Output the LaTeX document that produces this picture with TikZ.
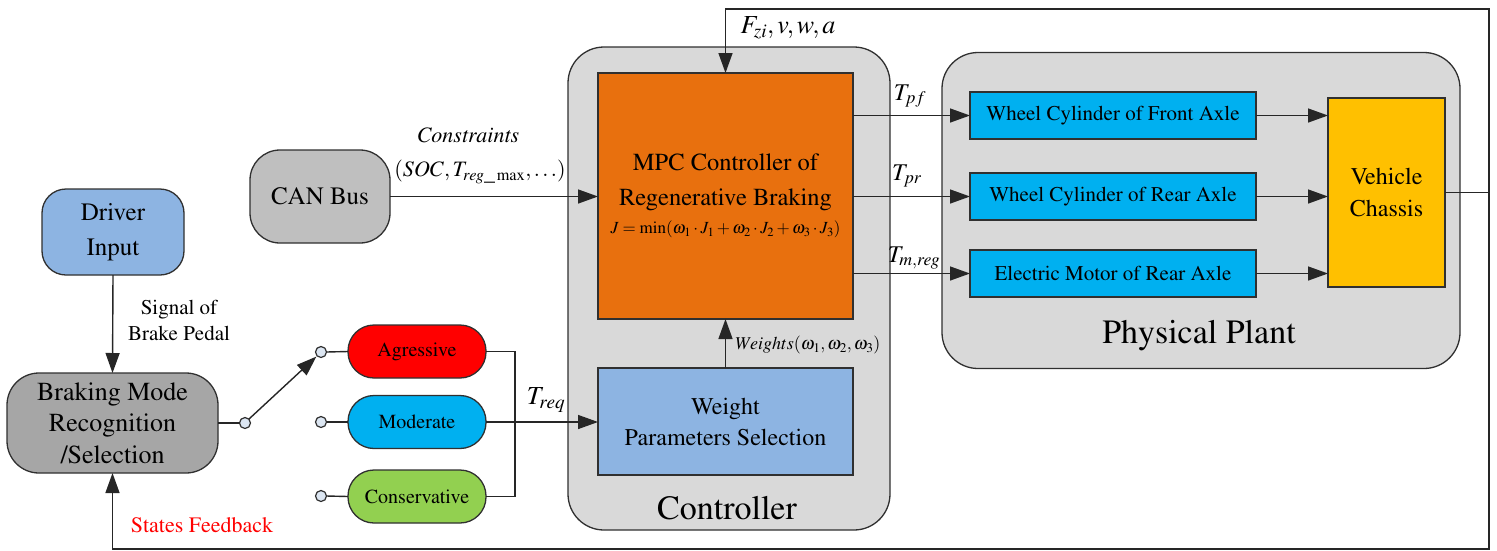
\documentclass[tikz,border=0pt]{standalone}
\usepackage[T1]{fontenc}
\usepackage{mathptmx}
\usetikzlibrary{arrows.meta}
\definecolor{drvblue}{HTML}{8DB4E2}
\definecolor{brkgray}{HTML}{A6A6A6}
\definecolor{cangray}{HTML}{BFBFBF}
\definecolor{contgray}{HTML}{D9D9D9}
\definecolor{mpcorange}{HTML}{E8700E}
\definecolor{cyanbox}{HTML}{00B0F0}
\definecolor{greenbox}{HTML}{92D050}
\definecolor{yellowbox}{HTML}{FFC000}
\definecolor{circfill}{HTML}{DCE6F2}
\definecolor{edge}{HTML}{303030}
\newcommand{\fs}[2]{\fontsize{#1}{#2}\selectfont}
\begin{document}
\begin{tikzpicture}[x=1pt,y=-1pt,
  every node/.style={inner sep=0pt, outer sep=0pt},
  blk/.style={draw=edge, line width=1.3pt, align=center},
  rbox/.style={blk, rounded corners=#1},
  pill/.style={blk, rounded corners=26pt, minimum width=138pt, minimum height=53pt, font=\fs{20}{24}},
  wbox/.style={blk, fill=cyanbox, minimum width=286pt, minimum height=47pt, font=\fs{21}{25}},
  sw/.style={circle, draw=edge, line width=1.2pt, fill=circfill, minimum size=11pt},
  wire/.style={draw=black!85, line width=1.4pt},
  arr/.style={wire, -{Triangle[length=20pt,width=14pt]}},
  lbl/.style={align=center}
]
\useasboundingbox (0,0) rectangle (1497,550);

% containers
\node[rbox=36pt, fill=contgray, minimum width=322pt, minimum height=483pt] (ctrl) at (729,288.5) {};
\node[rbox=36pt, fill=contgray, minimum width=518pt, minimum height=316pt] (plant) at (1201,210.5) {};
\node[lbl, font=\fs{34}{36}] (ctrllbl) at (727,508) {Controller};
\node[lbl, font=\fs{34}{36}] (plantlbl) at (1199,336) {Physical Plant};

% left blocks
\node[rbox=24pt, fill=drvblue, minimum width=142pt, minimum height=86pt, font=\fs{25}{35}] (driver) at (113,232) {Driver\\Input};
\node[rbox=32pt, fill=brkgray, minimum width=211pt, minimum height=100pt, font=\fs{26}{31.5}] (brake) at (112.5,423) {Braking Mode\\Recognition\\/Selection};
\node[rbox=30pt, fill=cangray, minimum width=140pt, minimum height=93pt, font=\fs{25}{30}] (can) at (320,196.5) {CAN Bus};

% controller blocks
\node[blk, fill=mpcorange, minimum width=255pt, minimum height=246pt, font=\fs{24.5}{35}] (mpc) at (725.5,196) {MPC Controller of\\Regenerative Braking\\[-7pt]{\fs{17}{19}$J=\min(\omega_1\cdot J_1+\omega_2\cdot J_2+\omega_3\cdot J_3)$}};
\node[blk, fill=drvblue, minimum width=255pt, minimum height=107pt, font=\fs{24}{31}] (weight) at (725.5,421.5) {Weight\\Parameters Selection};

% plant blocks
\node[wbox] (wf) at (1113,115.5) {Wheel Cylinder of Front Axle};
\node[wbox] (wr) at (1113,196.5) {Wheel Cylinder of Rear Axle};
\node[wbox] (em) at (1113,273.5) {Electric Motor of Rear Axle};
\node[blk, fill=yellowbox, minimum width=117pt, minimum height=189pt, font=\fs{24}{32}] (chassis) at (1386.5,192.5) {Vehicle\\Chassis};

% modes
\node[pill, fill=red] (agg) at (417,351.5) {Agressive};
\node[pill, fill=cyanbox] (mod) at (417,422) {Moderate};
\node[pill, fill=greenbox] (con) at (417,496.5) {Conservative};

% switch circles
\node[sw] (c1) at (245,423) {};
\node[sw] (ca) at (321,352) {};
\node[sw] (cm) at (321,422) {};
\node[sw] (cc) at (321,496) {};

% helper coordinates
\coordinate (tr) at (1489,9);
\coordinate (br) at (1489,549);
\coordinate (jx) at (515,0);

% connectors
\draw[arr] (driver.south) -- (brake.north);
\draw[wire] (brake.east) -- (c1.west);
\draw[arr, shorten >=1pt] (c1.north east) -- (ca.south west);
\draw[wire] (ca.east) -- (agg.west);
\draw[wire] (cm.east) -- (mod.west);
\draw[wire] (cc.east) -- (con.west);
\draw[wire] (agg.east) -- (agg.east -| jx) -- (con.east -| jx) -- (con.east);
\draw[arr] (mod.east) -- (mod.east -| weight.west);
\draw[arr] (can.east) -- (can.east -| mpc.west);
\draw[arr] (weight.north) -- (mpc.south);
\draw[arr] (mpc.east |- wf.west) -- (wf.west);
\draw[arr] (mpc.east |- wr.west) -- (wr.west);
\draw[arr] (mpc.east |- em.west) -- (em.west);
\draw[arr] (wf.east) -- (wf.east -| chassis.west);
\draw[arr] (wr.east) -- (wr.east -| chassis.west);
\draw[arr] (em.east) -- (em.east -| chassis.west);
\draw[arr] (chassis.east) -- (chassis.east -| tr) -- (tr) -- (tr -| mpc.north) -- (mpc.north);
\draw[arr] (chassis.east -| br) -- (br) -- (br -| brake.south) -- (brake.south);

% labels
\node[lbl, font=\fs{21}{26}] (sig) at (179,320) {Signal of\\Brake Pedal};
\node[lbl, font=\fs{22}{26}, text=red] (sfb) at (202,525) {States Feedback};
\node[lbl, font=\fs{22}{26}\itshape] (cons) at (468,135) {Constraints};
\node[lbl, font=\fs{22}{26}] (consv) at (480,172) {$(SOC,T_{reg\_\max},\ldots)$};
\node[lbl, font=\fs{26}{30}] (treq) at (546,400) {$T_{req}$};
\node[lbl, font=\fs{26}{30}] (fzi) at (788,28) {$F_{zi},v,w,a$};
\node[lbl, font=\fs{24}{28}] (tpf) at (910,96) {$T_{pf}$};
\node[lbl, font=\fs{24}{28}] (tpr) at (907,176) {$T_{pr}$};
\node[lbl, font=\fs{24}{28}] (tmr) at (914,258) {$T_{m,reg}$};
\node[lbl, font=\fs{18}{21}] (wts) at (808,345) {$Weights(\omega_1,\omega_2,\omega_3)$};
\end{tikzpicture}
\end{document}
